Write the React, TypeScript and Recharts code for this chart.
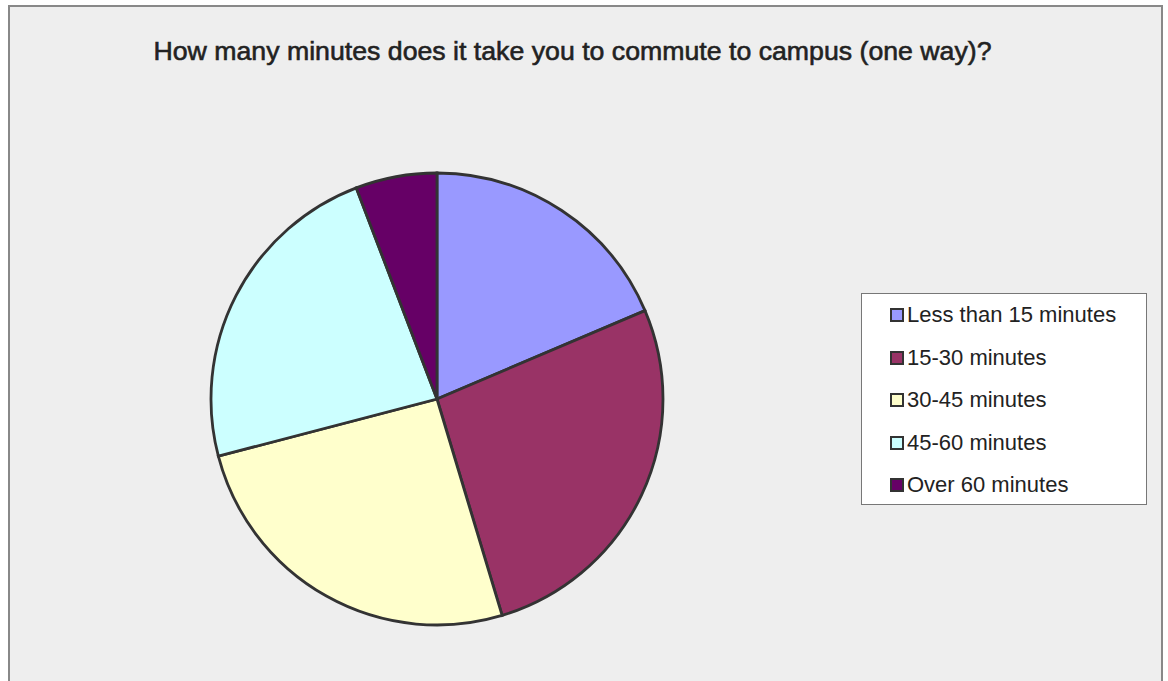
import React from 'react';
import { PieChart, Pie, Cell, Legend } from 'recharts';

const categories = ['Less than 15 minutes', '15-30 minutes', '30-45 minutes', '45-60 minutes', 'Over 60 minutes'];
const responses = [16, 23, 22, 20, 5];
const colors = ['#9999FF', '#993366', '#FFFFCC', '#CCFFFF', '#660066'];

const data = categories.map((name, i) => ({ name, value: responses[i] }));

const renderLegend = () => (
  <div
    style={{
      background: '#FFFFFF',
      border: '1px solid #777',
      width: 286,
      height: 212,
      boxSizing: 'border-box',
      paddingTop: 0,
      paddingLeft: 28,
      fontFamily: '"Liberation Sans", Arial, sans-serif',
      fontSize: 22,
      color: '#222',
    }}
  >
    {categories.map((label, i) => (
      <div key={label} style={{ display: 'flex', alignItems: 'center', height: 42.5 }}>
        <div
          style={{
            width: 10,
            height: 10,
            background: colors[i],
            border: '2px solid #333',
            marginRight: 3,
            flexShrink: 0,
          }}
        />
        <span>{label}</span>
      </div>
    ))}
  </div>
);

export default function App() {
  return (
    <div
      style={{
        position: 'absolute',
        left: 8,
        top: 5,
        width: 1151,
        height: 700,
        border: '2px solid #888',
        background: '#EEEEEE',
        overflow: 'hidden',
      }}
    >
      <div
        style={{
          position: 'absolute',
          left: 0,
          top: 29,
          width: 1125,
          textAlign: 'center',
          fontFamily: '"Liberation Sans", Arial, sans-serif',
          fontSize: 26.7,
          color: '#222',
          WebkitTextStroke: '0.6px #222',
        }}
      >
        How many minutes does it take you to commute to campus (one way)?
      </div>
      <PieChart width={1151} height={700}>
        <Pie
          data={data}
          dataKey="value"
          nameKey="name"
          cx={422}
          cy={387}
          outerRadius={226}
          startAngle={90}
          endAngle={-270}
          stroke="#333"
          strokeWidth={2.8}
          isAnimationActive={false}
        >
          {data.map((entry, i) => (
            <Cell key={entry.name} fill={colors[i]} />
          ))}
        </Pie>
        <Legend
          content={renderLegend}
          wrapperStyle={{ left: 851, top: 286, width: 286, height: 212 }}
        />
      </PieChart>
    </div>
  );
}
